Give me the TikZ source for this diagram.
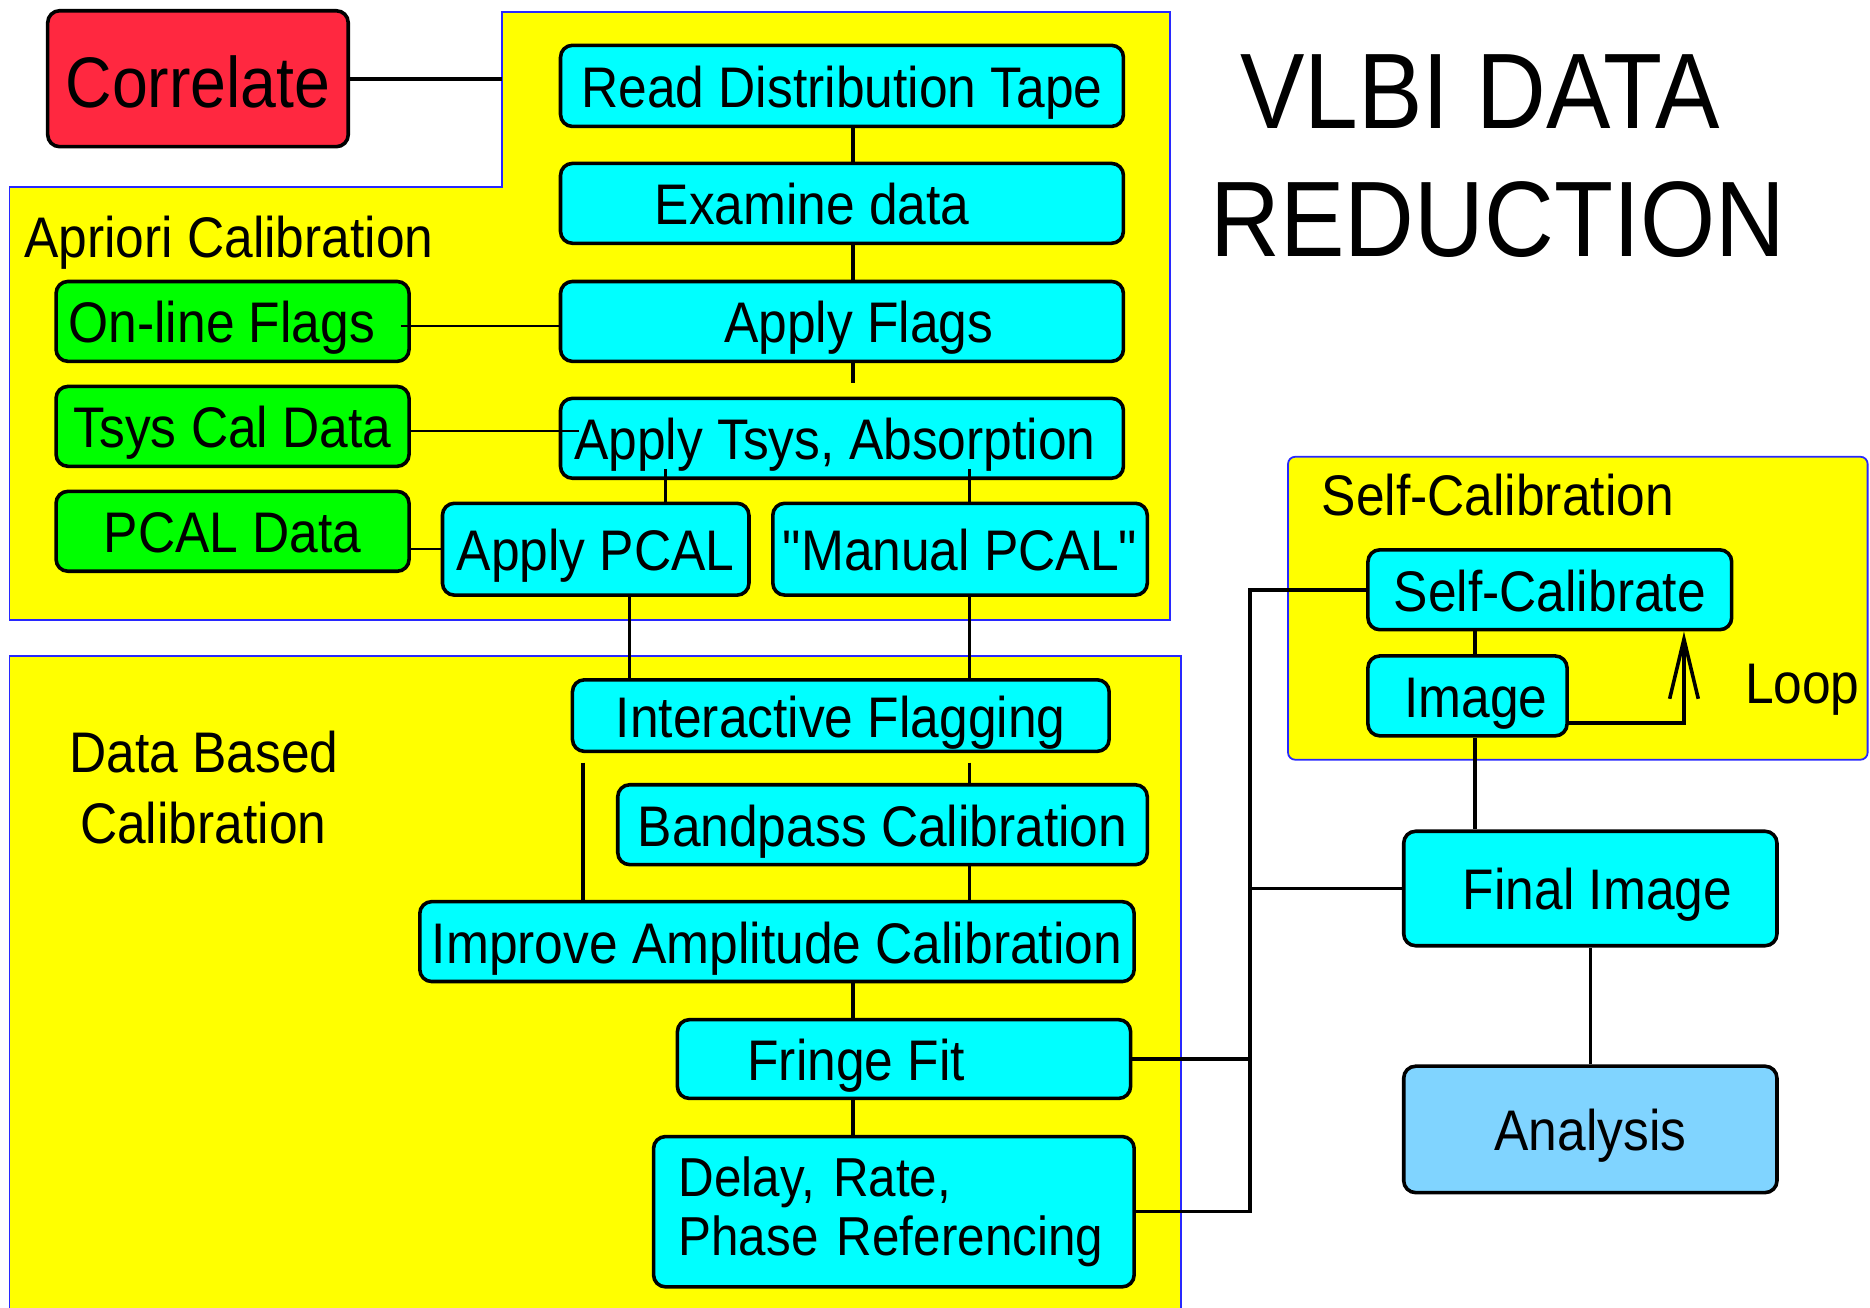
\documentclass[tikz,border=0pt]{standalone}
\usepackage{fontspec}
\setmainfont{Liberation Sans}[FakeStretch=0.9,Ligatures=TeXOff]
\usetikzlibrary{calc,arrows.meta}
\definecolor{cy}{RGB}{0,255,255}
\definecolor{gr}{RGB}{0,255,0}
\definecolor{rd}{RGB}{255,40,64}
\definecolor{yl}{RGB}{255,255,0}
\definecolor{bl}{RGB}{40,40,255}
\definecolor{lb}{RGB}{128,212,255}
\newcommand\bodyf{\fontsize{48}{50}\selectfont}
\newcommand\delayf{\fontsize{46}{50}\selectfont}
\newcommand\bigf{\fontsize{60}{66}\selectfont}
\newcommand\titlef{\fontsize{90}{100}\selectfont}
\begin{document}
\begin{tikzpicture}[x=1pt,y=-1pt,
  bxs/.style={draw=black,line width=3pt,rounded corners=10pt,fill=cy,inner sep=0pt,font=\bodyf},
  bx/.style={bxs,text height=36pt,text depth=0pt},
  region/.style={fill=yl,draw=bl,line width=1.5pt},
  ln/.style={draw=black,line width=3pt},
  thinln/.style={draw=black,line width=1.6pt},
  lbl/.style={font=\bodyf,inner sep=0pt,anchor=base west}]
\useasboundingbox (0,0) rectangle (1568,1096);
\clip (0,0) rectangle (1568,1096);
% regions
\path[region] (421,10) -- (981,10) -- (981,520) -- (8,520) -- (8,157) -- (421,157) -- cycle;
\path[region] (8,550) rectangle (990,1110);
\path[region,rounded corners=6pt] (1080,383) rectangle (1566,637);
% labels
\node[font=\titlef,inner sep=0pt,anchor=base] (t1) at (1241,108) {VLBI DATA};
\node[font=\titlef,inner sep=0pt,anchor=base] (t2) at (1256,215) {REDUCTION};
\node[lbl] (lapr) at (20,216) {Apriori Calibration};
\node[lbl] (lself) at (1108,432) {Self-Calibration};
\node[lbl] (ldb1) at (58,648) {Data Based};
\node[lbl] (ldb2) at (67,707) {Calibration};
\node[lbl] (lloop) at (1463,590) {Loop};
% boxes
\node[bxs,fill=rd,font=\bigf,text height=48pt,text depth=0pt,minimum width=252pt,minimum height=114pt] (corr) at (166,66) {Correlate};
\node[bx,minimum width=472pt,minimum height=68pt] (read) at (706,72) {Read Distribution Tape};
\node[bx,minimum width=472pt,minimum height=67pt] (exam) at (706,170.5) {Examine data\hspace*{50pt}};
\node[bx,minimum width=472pt,minimum height=67pt] (flags) at (706,269.5) {\hspace*{28pt}Apply Flags};
\node[bx,minimum width=472pt,minimum height=67pt] (tsys) at (706,367.5) {Apply Tsys, Absorption\hspace*{12pt}};
\node[bx,minimum width=257pt,minimum height=77pt] (appcal) at (499.5,460.5) {Apply PCAL};
\node[bx,minimum width=314pt,minimum height=77pt] (manpcal) at (805,460.5) {"Manual PCAL"};
\node[bx,fill=gr,minimum width=296pt,minimum height=67pt] (online) at (195,269.5) {On-line Flags\hspace*{18pt}};
\node[bx,fill=gr,minimum width=296pt,minimum height=67pt] (tsyscal) at (195,357.5) {Tsys Cal Data};
\node[bx,fill=gr,minimum width=296pt,minimum height=67pt] (pcaldata) at (195,445.5) {PCAL Data};
\node[bx,minimum width=450pt,minimum height=60pt] (inter) at (705,600) {Interactive Flagging};
\node[bx,minimum width=444pt,minimum height=67pt] (band) at (740,691.5) {Bandpass Calibration};
\node[bx,minimum width=599pt,minimum height=67pt] (improve) at (651.5,789.5) {Improve Amplitude Calibration};
\node[bx,minimum width=380pt,minimum height=66pt] (fringe) at (758,888) {Fringe Fit\hspace*{80pt}};
\node[bxs,font=\delayf,align=left,text width=361pt,minimum width=403pt,minimum height=126pt] (delay) at (749.5,1016) {\mbox{Delay, Rate,}\\\mbox{Phase Referencing}};
\node[bx,minimum width=305pt,minimum height=67pt] (selfcal) at (1299.5,494.5) {Self-Calibrate};
\node[bx,minimum width=167pt,minimum height=67pt] (image) at (1230.5,583.5) {\hspace*{14pt}Image};
\node[bx,minimum width=313pt,minimum height=96pt] (final) at (1333.5,745) {\hspace*{12pt}Final Image};
\node[bx,fill=lb,minimum width=313pt,minimum height=106pt] (analysis) at (1333.5,947) {Analysis};
% helper coordinates
\coordinate (regA) at (421,157);
\coordinate (bus) at (1048,700);
\coordinate (p1) at ($(appcal.south)+(28.5,0)$);
\coordinate (p2) at ($(manpcal.south)+(8,0)$);
\coordinate (p3) at ($(inter.south)+(-216,8)$);
\coordinate (p4) at ($(inter.south)+(108,8)$);
\coordinate (p5) at ($(band.south)+(73,0)$);
\coordinate (p6) at ($(improve.south)+(63.5,0)$);
\coordinate (p7) at ($(fringe.south)+(-43,0)$);
\coordinate (p8) at ($(image.north)+(6.5,0)$);
\coordinate (p9) at ($(image.south)+(6.5,0)$);
\coordinate (p10) at ($(image.east)+(0,22.5)$);
\coordinate (lp) at ($(selfcal.south)+(112.5,0)$);
% connectors
\draw[ln] (corr.east) -- (corr.east -| regA);
\draw[ln] ([xshift=9pt]read.south) -- ([xshift=9pt]exam.north);
\draw[ln] ([xshift=9pt]exam.south) -- ([xshift=9pt]flags.north);
\draw[ln] ([xshift=9pt]flags.south) -- ([xshift=9pt,yshift=11pt]tsys.north);
\draw[thinln] ($(online.east)+(-8,4)$) -- ($(online.east -| flags.west)+(0,4)$);
\draw[thinln] ($(tsyscal.east)+(0,4)$) -- ($(tsyscal.east -| tsys.west)+(17,4)$);
\draw[thinln] ($(pcaldata.east)+(0,15)$) -- (appcal.west);
\draw[ln] ($(tsys.south -| appcal.north)+(58.5,-9)$) -- ($(appcal.north)+(58.5,0)$);
\draw[ln] ($(tsys.south -| manpcal.north)+(8,-9)$) -- ($(manpcal.north)+(8,0)$);
\draw[ln] (p1) -- (p1 |- inter.north);
\draw[ln] (p2) -- (p2 |- inter.north);
\draw[ln] (p3) -- (p3 |- improve.north);
\draw[ln] (p4) -- (p4 |- band.north);
\draw[ln] (p5) -- (p5 |- improve.north);
\draw[ln] (p6) -- (p6 |- fringe.north);
\draw[ln] (p7) -- (p7 |- delay.north);
\draw[ln] (fringe.east) -- (fringe.east -| bus);
\draw[ln] (selfcal.west) -- (selfcal.west -| bus) -- (delay.east -| bus) -- (delay.east);
\draw[ln] (final.west) -- (final.west -| bus);
\draw[ln] (p8 |- selfcal.south) -- (p8);
\draw[ln] (p9) -- (p9 |- final.north);
\draw[ln,-{Straight Barb[length=50pt,width=24pt]}] (p10) -| (lp);
\draw[ln] (final.south) -- (analysis.north);
\end{tikzpicture}
\end{document}
